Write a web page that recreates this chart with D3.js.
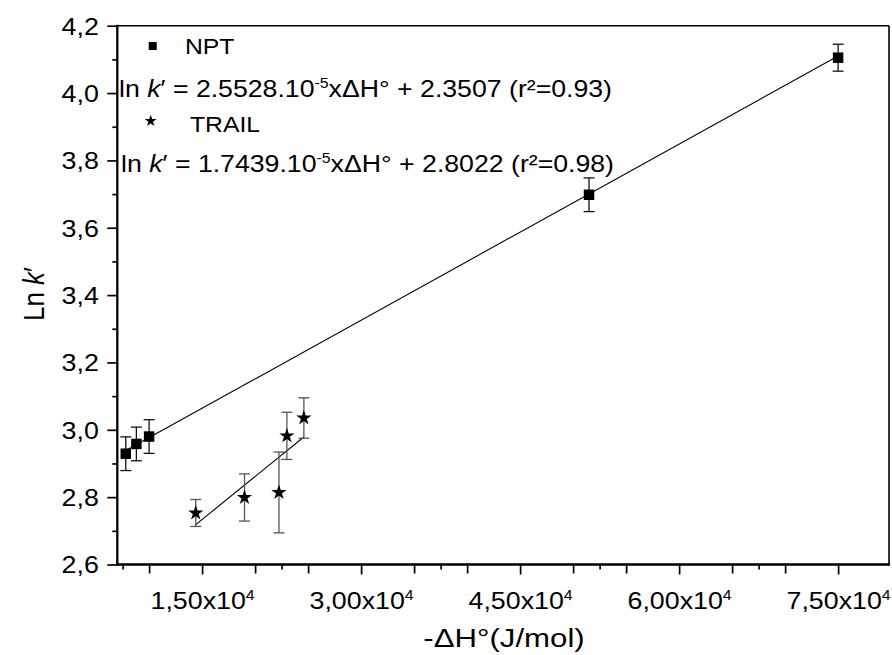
<!DOCTYPE html>
<html><head><meta charset="utf-8">
<script src="https://cdn.jsdelivr.net/npm/d3@7"></script>
<style>
body{margin:0;background:#fff}
text{font-family:"Liberation Sans",Arial,Helvetica,sans-serif;fill:#000}
</style>
</head><body>
<svg id="c" width="892" height="655"></svg>
<script>
// ---- data ----
const nptX = [7800, 8800, 10000, 51500, 75000];
const nptY = [2.929, 2.958, 2.980, 3.698, 4.105];
const nptErr = [0.05, 0.05, 0.05, 0.05, 0.04];
const trailX = [14400, 19000, 22250, 23000, 24600];
const trailY = [2.753, 2.799, 2.814, 2.982, 3.035];
const trailErr = [0.04, 0.07, 0.12, 0.07, 0.06];
// linear fits drawn through each series: [slope, intercept]
const nptFit = [1.7439e-5, 2.8022];
const trailFit = [2.5528e-5, 2.3507];
const xLabelTicks = [15000, 30000, 45000, 60000, 75000];
const xLabelText = ["1,50x10", "3,00x10", "4,50x10", "6,00x10", "7,50x10"];
const xMidTicks = [10000, 20000, 25000, 35000, 40000, 50000, 55000, 65000, 70000];
const xShortTicks = [7500, 22500, 37500, 52500, 67500];
const yTicks = [2.6, 2.8, 3.0, 3.2, 3.4, 3.6, 3.8, 4.0, 4.2];
const yMinorTicks = [2.7, 2.9, 3.1, 3.3, 3.5, 3.7, 3.9, 4.1];
const legendNames = ["NPT", "TRAIL"];
const legendEq = [
  ["2.5528.10", "-5", "xΔH° + 2.3507 (r²=0.93)"],
  ["1.7439.10", "-5", "xΔH° + 2.8022 (r²=0.98)"]
];

const L = 117.3, R = 889, T = 25.7, B = 564.5;
const SX = 1.14;
const svg = d3.select("#c");
const x = d3.scaleLinear().domain([7000, 79800]).range([L, R]);
const y = d3.scaleLinear().domain([2.6, 4.2]).range([B, T]);

// axes
const yAx = svg.append("g").attr("transform", `translate(${L},0)`)
  .call(d3.axisLeft(y).tickValues(yTicks).tickSize(10)
    .tickFormat(d => d3.format(".1f")(d).replace(".", ",")));
yAx.select(".domain").remove();
yAx.selectAll("line").attr("stroke-width", 1.7);
yAx.selectAll("text").attr("x", 0).attr("dy", "0.36em")
  .attr("transform", `translate(-18.5,0) scale(${SX},1)`)
  .style("font-size", "23.5px").style("font-family", '"Liberation Sans",Arial,sans-serif');
const yMin = svg.append("g").attr("transform", `translate(${L},0)`)
  .call(d3.axisLeft(y).tickValues(yMinorTicks).tickSize(5).tickFormat(""));
yMin.select(".domain").remove();
yMin.selectAll("line").attr("stroke-width", 1.7);

const xAx = svg.append("g").attr("transform", `translate(0,${B})`)
  .call(d3.axisBottom(x).tickValues(xLabelTicks).tickSize(10));
xAx.select(".domain").remove();
xAx.selectAll("line").attr("stroke-width", 1.7);
xAx.selectAll("text").each(function(d, i) {
  const t = d3.select(this);
  t.text(null).attr("y", 0).attr("dy", 0)
    .attr("transform", `translate(0,44) scale(${SX},1)`)
    .style("font-size", "23.5px").style("font-family", '"Liberation Sans",Arial,sans-serif');
  t.append("tspan").text(xLabelText[i]);
  t.append("tspan").attr("dy", -9).style("font-size", "14px").text("4");
});
const xMid = svg.append("g").attr("transform", `translate(0,${B})`)
  .call(d3.axisBottom(x).tickValues(xMidTicks).tickSize(9).tickFormat(""));
xMid.select(".domain").remove();
xMid.selectAll("line").attr("stroke-width", 1.7);
const xSh = svg.append("g").attr("transform", `translate(0,${B})`)
  .call(d3.axisBottom(x).tickValues(xShortTicks).tickSize(5).tickFormat(""));
xSh.select(".domain").remove();
xSh.selectAll("line").attr("stroke-width", 1.7);

// frame
svg.append("line").attr("x1", L).attr("x2", L).attr("y1", T - 1).attr("y2", B + 1).attr("stroke", "#000").attr("stroke-width", 2.3);
svg.append("line").attr("x1", L - 1).attr("x2", R + 1).attr("y1", B).attr("y2", B).attr("stroke", "#000").attr("stroke-width", 2.3);
svg.append("line").attr("x1", L).attr("x2", R).attr("y1", T).attr("y2", T).attr("stroke", "#000").attr("stroke-width", 1.6);
svg.append("line").attr("x1", R).attr("x2", R).attr("y1", T).attr("y2", B).attr("stroke", "#000").attr("stroke-width", 1.6);

// fit lines
function fitLine(xs, fit) {
  const x0 = d3.min(xs), x1 = d3.max(xs);
  svg.append("line")
    .attr("x1", x(x0)).attr("y1", y(fit[0] * x0 + fit[1]))
    .attr("x2", x(x1)).attr("y2", y(fit[0] * x1 + fit[1]))
    .attr("stroke", "#000").attr("stroke-width", 1.1);
}
fitLine(nptX, nptFit);
fitLine(trailX, trailFit);

// error bars
function errBars(xs, ys, es, color) {
  const g = svg.append("g").attr("stroke", color).attr("stroke-width", 1.3).attr("fill", "none");
  xs.forEach((xv, i) => {
    const cx = x(xv), y1 = y(ys[i] + es[i]), y2 = y(ys[i] - es[i]);
    g.append("line").attr("x1", cx).attr("x2", cx).attr("y1", y1).attr("y2", y2);
    g.append("line").attr("x1", cx - 5.5).attr("x2", cx + 5.5).attr("y1", y1).attr("y2", y1);
    g.append("line").attr("x1", cx - 5.5).attr("x2", cx + 5.5).attr("y1", y2).attr("y2", y2);
  });
}
errBars(nptX, nptY, nptErr, "#111");
errBars(trailX, trailY, trailErr, "#555");

// markers
const sq = d3.symbol().type(d3.symbolSquare).size(110);
const st = d3.symbol().type(d3.symbolStar).size(72);
svg.append("g").selectAll("path").data(nptX).join("path")
  .attr("d", sq).attr("transform", (d, i) => `translate(${x(d)},${y(nptY[i])})`).attr("fill", "#000");
svg.append("g").selectAll("path").data(trailX).join("path")
  .attr("d", st).attr("transform", (d, i) => `translate(${x(d)},${y(trailY[i])})`).attr("fill", "#000");

// legend
const lg = svg.append("g");
lg.append("path").attr("d", d3.symbol().type(d3.symbolSquare).size(64)()).attr("transform", "translate(152.7,46)");
lg.append("path").attr("d", d3.symbol().type(d3.symbolStar).size(44)()).attr("transform", "translate(150.7,121)");
const nameY = [53.5, 131.5], nameX = [185, 190];
legendNames.forEach((n, i) => {
  lg.append("text").attr("transform", `translate(${nameX[i]},${nameY[i]}) scale(1.1,1)`)
    .style("font-size", "22.5px").text(n);
});
const eqY = [96.5, 172], eqX = [119, 121];
legendEq.forEach((e, i) => {
  const t = lg.append("text").attr("transform", `translate(${eqX[i]},${eqY[i]}) scale(1.135,1)`)
    .style("font-size", "23.5px");
  t.append("tspan").text("ln ");
  t.append("tspan").style("font-style", "italic").text("k");
  t.append("tspan").text("′ = " + e[0]);
  t.append("tspan").attr("dy", -9).style("font-size", "14px").text(e[1]);
  t.append("tspan").attr("dy", 9).text(e[2]);
});

// axis titles
const yt = svg.append("text").attr("transform", "translate(44,294) rotate(-90) scale(1,1.12)")
  .attr("text-anchor", "middle").style("font-size", "26px");
yt.append("tspan").text("Ln ");
yt.append("tspan").style("font-style", "italic").text("k");
yt.append("tspan").text("′");
svg.append("text").attr("transform", "translate(504,647) scale(1.2,1)")
  .attr("text-anchor", "middle").style("font-size", "26px").text("-ΔH°(J/mol)");
</script>
</body></html>
